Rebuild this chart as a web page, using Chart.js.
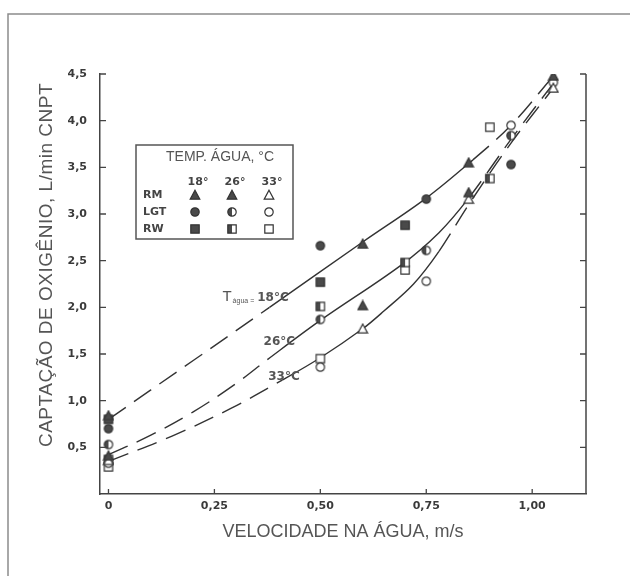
<!DOCTYPE html>
<html><head><meta charset="utf-8">
<script src="https://cdn.jsdelivr.net/npm/chart.js@4.4.0/dist/chart.umd.min.js"></script>
<style>html,body{margin:0;padding:0;background:#fff;}</style>
</head><body>
<canvas id="c" width="630" height="576"></canvas>
<script>
// ---- tick values / labels ----
const xTickValues = [0, 0.25, 0.5, 0.75, 1.0];
const xTickLabels = ['0', '0,25', '0,50', '0,75', '1,00'];
const yTickValues = [0.5, 1.0, 1.5, 2.0, 2.5, 3.0, 3.5, 4.0, 4.5];
const yTickLabels = ['0,5', '1,0', '1,5', '2,0', '2,5', '3,0', '3,5', '4,0', '4,5'];
const xTitle = 'VELOCIDADE NA ÁGUA, m/s';
const yTitle = 'CAPTAÇÃO DE OXIGÊNIO, L/min CNPT';

// ---- measured points (velocity m/s, O2 uptake L/min) ----
const rm18X = [0, 0.6, 0.85, 1.05];        const rm18Y = [0.84, 2.68, 3.55, 4.48];
const rm26X = [0, 0.6, 0.85];              const rm26Y = [0.41, 2.02, 3.23];
const rm33X = [0, 0.6, 0.85, 1.05];        const rm33Y = [0.36, 1.77, 3.16, 4.35];
const lgt18X = [0, 0.5, 0.75, 0.95];       const lgt18Y = [0.70, 2.66, 3.16, 3.53];
const lgt26X = [0, 0.5, 0.75, 0.95];       const lgt26Y = [0.53, 1.87, 2.61, 3.84];
const lgt33X = [0, 0.5, 0.75, 0.95, 1.05]; const lgt33Y = [0.33, 1.36, 2.28, 3.95, 4.41];
const rw18X = [0, 0.5, 0.7];               const rw18Y = [0.80, 2.27, 2.88];
const rw26X = [0, 0.5, 0.7, 0.9];          const rw26Y = [0.37, 2.01, 2.48, 3.38];
const rw33X = [0, 0.5, 0.7, 0.9];          const rw33Y = [0.29, 1.45, 2.40, 3.93];

// ---- fitted curves ----
const curve18X = [0, 0.2, 0.38, 0.6, 0.75, 0.86, 0.95, 1.05];
const curve18Y = [0.80, 1.43, 2.00, 2.70, 3.17, 3.58, 3.95, 4.48];
const curve26X = [0, 0.1, 0.2, 0.3, 0.375, 0.5, 0.69, 0.78, 0.85, 0.95, 1.05];
const curve26Y = [0.42, 0.63, 0.88, 1.18, 1.44, 1.86, 2.45, 2.80, 3.17, 3.80, 4.40];
const curve33X = [0, 0.15, 0.29, 0.41, 0.5, 0.6, 0.65, 0.72, 0.78, 0.85, 0.95, 1.05];
const curve33Y = [0.35, 0.62, 0.92, 1.22, 1.46, 1.77, 1.96, 2.25, 2.60, 3.10, 3.76, 4.35];

// ---- curve labels (anchored in data units) ----
const curveLabelText = ['18°C', '26°C', '33°C'];
const curveLabelX = [0.269, 0.366, 0.377];
const curveLabelY = [2.10, 1.63, 1.25];

// ---- legend table ----
const legendTitle = 'TEMP. ÁGUA, °C';
const legendTemps = ['18°', '26°', '33°'];
const legendRows = ['RM', 'LGT', 'RW'];

const DARK = '#4a4a4a';
function marker(shape, fill) {
  const s = 12, c = document.createElement('canvas');
  c.width = s; c.height = s;
  const g = c.getContext('2d');
  const path = () => {
    g.beginPath();
    if (shape === 'tri') { g.moveTo(6, 1.2); g.lineTo(10.8, 10.2); g.lineTo(1.2, 10.2); g.closePath(); }
    else if (shape === 'circ') { g.arc(6, 6, 4.2, 0, Math.PI * 2); }
    else { g.rect(1.8, 1.8, 8.4, 8.4); }
  };
  path(); g.fillStyle = '#fff'; g.fill();
  if (fill === 'full') { path(); g.fillStyle = DARK; g.fill(); }
  else if (fill === 'half') { g.save(); g.beginPath(); g.rect(0, 0, 6, s); g.clip(); path(); g.fillStyle = DARK; g.fill(); g.restore(); }
  path(); g.strokeStyle = '#333'; g.lineWidth = 1.2; g.stroke();
  return c;
}
const M = {
  RM: [marker('tri', 'full'), marker('tri', 'full'), marker('tri', 'none')],
  LGT: [marker('circ', 'full'), marker('circ', 'half'), marker('circ', 'none')],
  RW: [marker('sq', 'full'), marker('sq', 'half'), marker('sq', 'none')]
};

const zip = (xs, ys) => xs.map((x, i) => ({ x, y: ys[i] }));
function pts(label, xs, ys, img) {
  return { label, data: zip(xs, ys), showLine: false, pointStyle: img, pointRadius: 5, pointHoverRadius: 5, order: 0 };
}
const DASH = [21, 10];
function curve(label, xs, ys, solidFrom, solidTo) {
  return {
    label, type: 'line', data: zip(xs, ys), showLine: true, pointRadius: 0, borderColor: '#333',
    borderWidth: 1.4, tension: 0.35, fill: false, order: 1,
    segment: { borderDash: ctx => { const a = ctx.p0.parsed.x; return (a >= solidFrom - 1e-9 && a < solidTo - 1e-9) ? [] : DASH; } }
  };
}

const deco = {
  id: 'deco',
  beforeDraw(chart) {
    const ctx = chart.ctx; ctx.save(); ctx.fillStyle = '#fff'; ctx.fillRect(0, 0, chart.width, chart.height); ctx.restore();
  },
  afterDraw(chart) {
    const ctx = chart.ctx, xs = chart.scales.x, ys = chart.scales.y;
    const { left, right, top, bottom } = chart.chartArea;
    ctx.save();
    // outer frame
    ctx.strokeStyle = '#8c8c8c'; ctx.lineWidth = 1.5;
    ctx.beginPath(); ctx.moveTo(8, chart.height); ctx.lineTo(8, 14); ctx.lineTo(chart.width, 14); ctx.stroke();
    // right axis
    ctx.strokeStyle = '#444'; ctx.lineWidth = 1.5;
    ctx.beginPath(); ctx.moveTo(right, top); ctx.lineTo(right, bottom); ctx.stroke();
    // inward ticks
    ctx.lineWidth = 1.3;
    yTickValues.forEach(v => {
      const y = ys.getPixelForValue(v);
      ctx.beginPath(); ctx.moveTo(left, y); ctx.lineTo(left + 6, y); ctx.moveTo(right, y); ctx.lineTo(right - 6, y); ctx.stroke();
    });
    xTickValues.forEach(v => {
      const x = xs.getPixelForValue(v);
      ctx.beginPath(); ctx.moveTo(x, bottom); ctx.lineTo(x, bottom - 5); ctx.stroke();
    });
    // y axis title
    ctx.save();
    ctx.translate(47, 265); ctx.rotate(-Math.PI / 2);
    ctx.fillStyle = '#555'; ctx.font = '19px "Liberation Sans"'; ctx.textAlign = 'center'; ctx.textBaseline = 'middle';
    if ('letterSpacing' in ctx) ctx.letterSpacing = '0.5px';
    ctx.fillText(yTitle, 0, 0);
    ctx.restore();
    // curve labels
    ctx.fillStyle = '#555'; ctx.textBaseline = 'middle'; ctx.textAlign = 'left';
    curveLabelText.forEach((t, i) => {
      let x = xs.getPixelForValue(curveLabelX[i]);
      const y = ys.getPixelForValue(curveLabelY[i]);
      if (i === 0) {
        ctx.font = '15px "Liberation Sans"'; ctx.fillText('T', x, y - 1); x += ctx.measureText('T').width + 1;
        ctx.font = '7px "Liberation Sans"'; const sub = 'água ='; ctx.fillText(sub, x, y + 3); x += ctx.measureText(sub).width + 3;
      }
      ctx.font = 'bold 12px "DejaVu Sans"'; ctx.fillText(t, x, y);
    });
    // legend box
    const bx = 136, by = 145, bw = 157, bh = 94;
    ctx.strokeStyle = '#555'; ctx.lineWidth = 1.5; ctx.strokeRect(bx, by, bw, bh);
    ctx.fillStyle = '#555'; ctx.textAlign = 'center';
    ctx.font = '14px "Liberation Sans"'; ctx.fillText(legendTitle, bx + 84, by + 12);
    const colX = [195, 232, 269], rowY = [195, 212, 229];
    ctx.fillStyle = '#444';
    ctx.font = 'bold 11px "DejaVu Sans"';
    legendTemps.forEach((t, i) => ctx.fillText(t, colX[i] + 3, 182));
    ctx.textAlign = 'left';
    legendRows.forEach((r, j) => {
      ctx.fillText(r, 143, rowY[j]);
      M[r].forEach((img, i) => ctx.drawImage(img, colX[i] - 6, rowY[j] - 6));
    });
    ctx.restore();
  }
};

new Chart(document.getElementById('c'), {
  type: 'scatter',
  data: {
    datasets: [
      curve('18 °C', curve18X, curve18Y, 0.38, 0.86),
      curve('26 °C', curve26X, curve26Y, 0.375, 0.85),
      curve('33 °C', curve33X, curve33Y, 0.41, 0.78),
      pts('RM 18°', rm18X, rm18Y, M.RM[0]),
      pts('RM 26°', rm26X, rm26Y, M.RM[1]),
      pts('RM 33°', rm33X, rm33Y, M.RM[2]),
      pts('LGT 18°', lgt18X, lgt18Y, M.LGT[0]),
      pts('LGT 26°', lgt26X, lgt26Y, M.LGT[1]),
      pts('LGT 33°', lgt33X, lgt33Y, M.LGT[2]),
      pts('RW 18°', rw18X, rw18Y, M.RW[0]),
      pts('RW 26°', rw26X, rw26Y, M.RW[1]),
      pts('RW 33°', rw33X, rw33Y, M.RW[2])
    ]
  },
  options: {
    responsive: false, animation: false, devicePixelRatio: 1,
    layout: { padding: { top: 74, right: 44, bottom: 22, left: 0 } },
    plugins: { legend: { display: false }, tooltip: { enabled: false } },
    scales: {
      x: {
        type: 'linear', min: -0.02, max: 1.127,
        afterBuildTicks: s => { s.ticks = xTickValues.map(v => ({ value: v })); },
        afterFit: s => { s.height = 60; },
        grid: { display: false, drawTicks: false },
        border: { display: true, color: '#444', width: 1.5 },
        ticks: { padding: 6, color: '#3a3a3a', font: { family: 'DejaVu Sans', weight: 'bold', size: 11 },
                 callback: v => xTickLabels[xTickValues.indexOf(v)] },
        title: { display: true, text: xTitle, color: '#555',
                 font: { family: 'Liberation Sans', size: 18 }, padding: { top: 0, bottom: 11 } }
      },
      y: {
        type: 'linear', min: 0, max: 4.5,
        afterBuildTicks: s => { s.ticks = yTickValues.map(v => ({ value: v })); },
        afterFit: s => { s.width = 100; },
        grid: { display: false, drawTicks: false },
        border: { display: true, color: '#444', width: 1.5 },
        ticks: { padding: 13, color: '#3a3a3a', font: { family: 'DejaVu Sans', weight: 'bold', size: 11 },
                 callback: v => yTickLabels[yTickValues.indexOf(v)] },
        title: { display: false }
      }
    }
  },
  plugins: [deco]
});
</script>
</body></html>
